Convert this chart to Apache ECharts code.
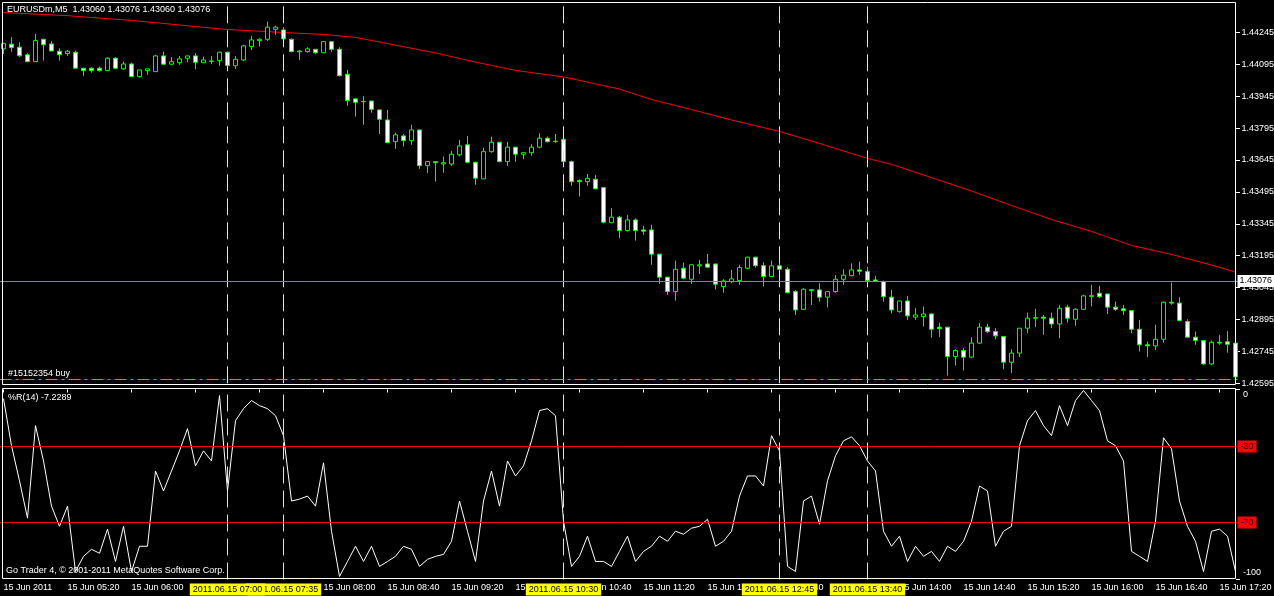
<!DOCTYPE html>
<html><head><meta charset="utf-8">
<script src="https://cdn.jsdelivr.net/npm/echarts@6/dist/echarts.min.js"></script>
<style>html,body{margin:0;padding:0;background:#000;}#c{width:1274px;height:596px;}</style>
</head><body><div id="c"></div>
<script>
// ---------- data ----------
const symbolTitle = 'EURUSDm,M5  1.43060 1.43076 1.43060 1.43076';
const orderLabel = '#15152354 buy';
const wprTitle = '%R(14) -7.2289';
const copyright = 'Go Trader 4, \u00a9 2001-2011 MetaQuotes Software Corp.';
const dayLabel = '15 Jun 2011';
const dayPrefix = '15 Jun ';
const datePrefix = '2011.06.15 ';
const firstBar = '04:40';
const barCount = 155;

const opens = [1.44167,1.44189,1.44175,1.44139,1.44107,1.44212,1.44190,1.44156,1.44145,1.44151,
1.44076,1.44076,1.44076,1.44065,1.44123,1.44073,1.44096,1.44037,1.44065,1.44060,
1.44134,1.44095,1.44102,1.44123,1.44134,1.44102,1.44110,1.44112,1.44151,1.44088,
1.44115,1.44178,1.44206,1.44212,1.44259,1.44256,1.44212,1.44153,1.44154,1.44165,
1.44149,1.44201,1.44165,1.44048,1.43932,1.43919,1.43922,1.43880,1.43833,1.43731,
1.43758,1.43736,1.43786,1.43618,1.43637,1.43626,1.43626,1.43669,1.43716,1.43634,
1.43556,1.43684,1.43728,1.43637,1.43705,1.43672,1.43679,1.43705,1.43747,1.43731,
1.43742,1.43637,1.43548,1.43543,1.43554,1.43515,1.43350,1.43376,1.43313,1.43363,
1.43316,1.43316,1.43202,1.43094,1.43026,1.43136,1.43084,1.43147,1.43156,1.43156,
1.43050,1.43073,1.43078,1.43136,1.43188,1.43148,1.43097,1.43147,1.43131,1.43026,
1.42943,1.43035,1.43034,1.43000,1.43026,1.43084,1.43101,1.43128,1.43120,1.43081,
1.43073,1.43000,1.42932,1.42982,1.42906,1.42909,1.42921,1.42859,1.42859,1.42721,
1.42749,1.42718,1.42784,1.42859,1.42838,1.42815,1.42694,1.42737,1.42854,1.42901,
1.42906,1.42901,1.42874,1.42953,1.42896,1.42943,1.43006,1.43018,1.43015,1.42953,
1.42945,1.42937,1.42849,1.42776,1.42771,1.42802,1.42976,1.42972,1.42885,1.42812,
1.42796,1.42686,1.42788,1.42790,1.42784];
const highs = [1.44195,1.44222,1.44198,1.44147,1.44237,1.44212,1.44203,1.44170,1.44162,1.44159,
1.44076,1.44081,1.44084,1.44128,1.44128,1.44107,1.44102,1.44068,1.44073,1.44139,
1.44154,1.44128,1.44134,1.44134,1.44147,1.44131,1.44134,1.44151,1.44154,1.44134,
1.44186,1.44228,1.44217,1.44295,1.44276,1.44269,1.44217,1.44162,1.44175,1.44165,
1.44201,1.44204,1.44175,1.44068,1.43935,1.43946,1.43922,1.43883,1.43880,1.43773,
1.43767,1.43810,1.43786,1.43640,1.43637,1.43661,1.43687,1.43739,1.43758,1.43637,
1.43703,1.43755,1.43728,1.43730,1.43705,1.43679,1.43719,1.43770,1.43755,1.43767,
1.43742,1.43642,1.43554,1.43579,1.43575,1.43515,1.43418,1.43382,1.43387,1.43371,
1.43335,1.43340,1.43202,1.43094,1.43172,1.43162,1.43156,1.43175,1.43203,1.43156,
1.43084,1.43128,1.43152,1.43190,1.43190,1.43164,1.43172,1.43167,1.43141,1.43034,
1.43042,1.43038,1.43066,1.43026,1.43104,1.43131,1.43159,1.43167,1.43143,1.43100,
1.43078,1.43034,1.42982,1.43006,1.42948,1.42956,1.42924,1.42880,1.42859,1.42755,
1.42760,1.42812,1.42878,1.42874,1.42854,1.42815,1.42755,1.42854,1.42927,1.42945,
1.42916,1.42927,1.42964,1.42964,1.42948,1.43011,1.43058,1.43053,1.43015,1.42979,
1.42964,1.42937,1.42893,1.42791,1.42870,1.42979,1.43068,1.43000,1.42896,1.42838,
1.42799,1.42796,1.42823,1.42841,1.42812];
const lows = [1.44143,1.44154,1.44128,1.44104,1.44107,1.44112,1.44157,1.44112,1.44134,1.44076,
1.44041,1.44055,1.44060,1.44065,1.44073,1.44068,1.44037,1.44032,1.44045,1.44060,
1.44095,1.44092,1.44092,1.44104,1.44071,1.44100,1.44095,1.44088,1.44068,1.44073,
1.44110,1.44162,1.44178,1.44204,1.44233,1.44209,1.44151,1.44115,1.44149,1.44142,
1.44149,1.44154,1.44037,1.43900,1.43849,1.43810,1.43867,1.43767,1.43724,1.43697,
1.43708,1.43716,1.43603,1.43583,1.43543,1.43585,1.43617,1.43661,1.43630,1.43528,
1.43556,1.43679,1.43634,1.43617,1.43637,1.43648,1.43665,1.43700,1.43726,1.43726,
1.43634,1.43524,1.43473,1.43524,1.43507,1.43347,1.43347,1.43277,1.43308,1.43266,
1.43293,1.43152,1.43062,1.43011,1.42984,1.43084,1.43062,1.43109,1.43136,1.43037,
1.43021,1.43066,1.43058,1.43131,1.43139,1.43050,1.43097,1.43113,1.43018,1.42916,
1.42940,1.42963,1.42979,1.42951,1.43021,1.43058,1.43097,1.43104,1.43066,1.43073,
1.42979,1.42924,1.42927,1.42893,1.42893,1.42862,1.42810,1.42812,1.42631,1.42678,
1.42655,1.42713,1.42780,1.42831,1.42802,1.42661,1.42643,1.42718,1.42831,1.42859,
1.42823,1.42854,1.42807,1.42880,1.42865,1.42940,1.42956,1.42995,1.42921,1.42935,
1.42916,1.42831,1.42744,1.42718,1.42752,1.42786,1.42964,1.42890,1.42807,1.42776,
1.42682,1.42682,1.42776,1.42739,1.42622];
const closes = [1.44193,1.44173,1.44135,1.44107,1.44206,1.44186,1.44157,1.44140,1.44156,1.44076,
1.44065,1.44065,1.44065,1.44123,1.44076,1.44096,1.44037,1.44068,1.44073,1.44134,
1.44095,1.44107,1.44120,1.44134,1.44104,1.44115,1.44109,1.44151,1.44088,1.44118,
1.44181,1.44209,1.44212,1.44269,1.44269,1.44214,1.44154,1.44157,1.44167,1.44149,
1.44201,1.44165,1.44041,1.43924,1.43916,1.43920,1.43883,1.43836,1.43726,1.43763,
1.43736,1.43786,1.43618,1.43637,1.43632,1.43632,1.43672,1.43711,1.43634,1.43559,
1.43684,1.43728,1.43637,1.43705,1.43672,1.43679,1.43705,1.43747,1.43731,1.43733,
1.43637,1.43543,1.43543,1.43559,1.43509,1.43352,1.43376,1.43313,1.43363,1.43313,
1.43310,1.43202,1.43094,1.43026,1.43131,1.43089,1.43152,1.43152,1.43141,1.43061,
1.43076,1.43086,1.43139,1.43188,1.43148,1.43097,1.43147,1.43131,1.43021,1.42940,
1.43037,1.43031,1.43000,1.43026,1.43084,1.43103,1.43128,1.43122,1.43078,1.43075,
1.43002,1.42940,1.42982,1.42912,1.42916,1.42921,1.42849,1.42852,1.42721,1.42749,
1.42718,1.42784,1.42859,1.42838,1.42818,1.42694,1.42737,1.42854,1.42901,1.42904,
1.42901,1.42874,1.42948,1.42901,1.42943,1.43006,1.43004,1.43002,1.42953,1.42943,
1.42937,1.42849,1.42776,1.42771,1.42802,1.42976,1.42972,1.42890,1.42812,1.42796,
1.42686,1.42788,1.42784,1.42779,1.42625];

// moving average (red line), read at selected bars
const maIdx = [0,8,16,24,28,35,40,44,48,54,59,64,70,77,81,86,91,97,101,108,111,116,121,126,131,136,141,146,151,154];
const maVal = [1.44338,1.44323,1.44301,1.44272,1.44258,1.44244,1.44235,1.44221,1.44192,1.44148,1.44105,1.44066,1.44035,1.43978,1.43929,1.43882,1.43833,1.43779,1.43734,1.43652,1.43624,1.43562,1.43499,1.43431,1.43365,1.43309,1.43243,1.43201,1.43151,1.43118];

// Williams %R(14)
const wpr = [-4.8,-29.6,-48.1,-67.7,-19.0,-37.6,-61.4,-72.0,-61.4,-95.8,
-87.8,-84.1,-86.2,-73.5,-90.5,-72.0,-95.8,-82.5,-82.5,-42.9,
-53.4,-42.9,-32.3,-20.6,-40.2,-32.3,-37.6,-3.2,-53.4,-16.4,
-10.1,-5.8,-8.5,-10.1,-13.8,-24.3,-58.7,-57.7,-56.1,-61.4,
-38.6,-74.6,-98.4,-90.5,-82.5,-90.5,-82.5,-93.1,-90.5,-87.8,
-82.5,-84.1,-93.1,-89.4,-87.8,-86.8,-79.9,-58.7,-74.6,-90.5,
-58.7,-42.9,-61.4,-37.6,-45.5,-40.2,-27.0,-11.1,-10.1,-13.8,
-69.3,-93.1,-87.8,-77.2,-90.5,-90.5,-93.1,-85.2,-77.2,-90.5,
-85.2,-82.5,-77.2,-79.9,-74.6,-76.2,-73.0,-72.0,-68.3,-82.5,
-79.9,-74.6,-56.1,-45.5,-45.5,-50.8,-24.3,-32.3,-93.1,-95.8,
-58.7,-56.1,-70.9,-48.1,-34.9,-27.0,-24.9,-29.6,-37.6,-42.9,
-74.6,-82.5,-77.2,-90.5,-82.5,-87.8,-85.2,-90.5,-82.5,-85.2,
-79.9,-69.3,-50.8,-53.4,-82.5,-74.6,-72.0,-29.6,-16.4,-11.1,
-19.0,-24.3,-8.5,-19.0,-5.8,-0.5,-5.8,-11.1,-27.0,-29.6,
-37.6,-85.2,-87.8,-90.5,-69.3,-25.4,-31.2,-58.7,-72.0,-79.9,
-95.8,-74.6,-73.5,-77.2,-95.8];

const vlineTimes = ['07:35','07:00','10:30','12:45','13:40'];
const bidPrice = 1.43076;
const orderPrice = 1.42614;
const wprLevels = [-30, -70];
const priceMin = 1.42595, priceMax = 1.443874, priceStep = 0.0015;

// ---------- build ----------
function pad(n){return (n<10?'0':'')+n;}
const categories = [];
{
  const [h0,m0] = firstBar.split(':').map(Number);
  for (let i=0;i<barCount;i++){ const t=h0*60+m0+5*i; categories.push(pad(Math.floor(t/60))+':'+pad(t%60)); }
}
const FONT = "'Liberation Sans', Arial, sans-serif";
const candleData = opens.map((o,i)=>[o, closes[i], lows[i], highs[i]]);
const maData = maIdx.map((k,j)=>[categories[k], maVal[j]]);
const every8 = (idx)=> idx % 8 === 0;
const vStyle = {color:'#ffff00', type:[17,7], width:1};
const redStyle = {color:'#ff0000', type:'solid', width:1};

const priceMarks = vlineTimes.map(t=>({xAxis:t, lineStyle:vStyle, label:{show:false}}));
priceMarks.push({yAxis:orderPrice, lineStyle:{color:'#32cd32', type:[12,4,3,4], width:1}, label:{show:false}});
priceMarks.push({yAxis:bidPrice, lineStyle:{color:'#778899', type:'solid', width:1},
  label:{show:true, position:'end', distance:0, offset:[-2,0], formatter:bidPrice.toFixed(5), backgroundColor:'#ffffff', color:'#000', padding:[2,3,1,2], fontSize:9, fontFamily:FONT}});

const levelMarks = wprLevels.map(l=>({yAxis:l, lineStyle:redStyle,
  label:{show:true, position:'end', distance:0, offset:[-2,0], formatter:String(l), backgroundColor:'#ff0000', color:'#000', padding:[2,3,1,3], fontSize:9, fontFamily:FONT}}));
const wprVMarks = vlineTimes.map(t=>({xAxis:t, lineStyle:vStyle,
  label:{show:true, position:'start', distance:4, formatter:datePrefix+t, backgroundColor:'#ffff00', color:'#000', padding:[2,3,1,3], fontSize:9, fontFamily:FONT}}));

const tStyle = {color:'#ffffff', fontSize:9, fontWeight:'normal', fontFamily:FONT};
const chart = echarts.init(document.getElementById('c'));
chart.setOption({
  backgroundColor:'#000',
  animation:false,
  textStyle:{fontFamily:FONT},
  title:[
    {text:symbolTitle, left:7, top:5, padding:0, textStyle:tStyle},
    {text:orderLabel, left:8, top:369, padding:0, textStyle:tStyle},
    {text:wprTitle, left:8, top:393, padding:0, textStyle:tStyle},
    {text:copyright, left:6, top:566, padding:0, textStyle:tStyle}
  ],
  grid:[
    {left:-0.5, top:2, width:1240, height:381.3, show:false, containLabel:false, outerBoundsMode:'none'},
    {left:-0.5, top:389.5, width:1240, height:190, show:false, containLabel:false, outerBoundsMode:'none'}
  ],
  xAxis:[
    {type:'category', gridIndex:0, data:categories, show:false},
    {type:'category', gridIndex:1, data:categories,
      axisLine:{show:false},
      axisTick:{show:true, alignWithLabel:true, interval:every8, length:3, lineStyle:{color:'#ffffff'}},
      axisLabel:{interval:every8, align:'left', margin:4, color:'#ffffff', fontSize:9, fontFamily:FONT,
        formatter:(v,idx)=> idx===0 ? dayLabel : dayPrefix+v},
      splitLine:{show:false}}
  ],
  yAxis:[
    {type:'value', gridIndex:0, position:'right', offset:-3.5, min:priceMin, max:priceMax, interval:priceStep,
      axisLine:{show:false}, axisTick:{show:true, length:4, lineStyle:{color:'#ffffff'}},
      axisLabel:{color:'#ffffff', fontSize:9, fontFamily:FONT, margin:5.5, showMaxLabel:false, formatter:v=>v.toFixed(5)},
      splitLine:{show:false}},
    {type:'value', gridIndex:1, position:'right', offset:-3.5, min:-100, max:0, interval:100,
      axisLine:{show:false}, axisTick:{show:true, length:4, lineStyle:{color:'#ffffff'}},
      axisLabel:{color:'#ffffff', fontSize:9, fontFamily:FONT, margin:7,
        formatter:v=> v===0 ? '{t|0}' : '{b|'+v+'}',
        rich:{t:{padding:[11,0,0,0], color:'#fff', fontSize:9, fontFamily:FONT}, b:{padding:[0,0,13,0], color:'#fff', fontSize:9, fontFamily:FONT}}},
      splitLine:{show:false}}
  ],
  series:[
    {type:'candlestick', xAxisIndex:0, yAxisIndex:0, data:candleData, barWidth:5,
      itemStyle:{color:'#000000', color0:'#ffffff', borderColor:'#00ff00', borderColor0:'#00ff00', borderWidth:1},
      markLine:{silent:true, precision:5, symbol:['none','none'], animation:false, data:priceMarks}},
    {type:'line', xAxisIndex:0, yAxisIndex:0, data:maData, symbol:'none', lineStyle:{color:'#ff0000', width:1}, z:1},
    {type:'line', xAxisIndex:1, yAxisIndex:1, data:[], symbol:'none',
      markLine:{silent:true, precision:2, symbol:['none','none'], animation:false,
        lineStyle:redStyle, data:levelMarks}},
    {type:'line', xAxisIndex:1, yAxisIndex:1, data:wpr, symbol:'none', clip:false, lineStyle:{color:'#ffffff', width:1},
      markLine:{silent:true, precision:2, symbol:['none','none'], animation:false,
        lineStyle:vStyle, data:wprVMarks}}
  ],
  graphic:[
    {type:'rect', silent:true, z:100, shape:{x:2.5, y:2.5, width:1233, height:382}, style:{fill:'none', stroke:'#ffffff', lineWidth:1}},
    {type:'rect', silent:true, z:100, shape:{x:2.5, y:388.5, width:1233, height:190}, style:{fill:'none', stroke:'#ffffff', lineWidth:1}}
  ]
});
</script>
</body></html>
